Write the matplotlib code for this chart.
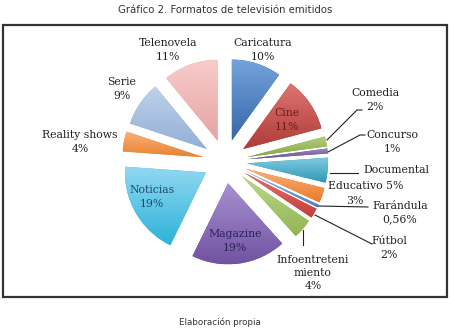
import numpy as np
import matplotlib.pyplot as plt
from matplotlib.patches import Rectangle
from matplotlib.colors import LinearSegmentedColormap, to_rgb

# Datos
categorias = ["Caricatura", "Cine", "Comedia", "Concurso", "Documental", "Educativo",
              "Farándula", "Fútbol", "Infoentretenimiento", "Magazine", "Noticias",
              "Reality shows", "Serie", "Telenovela"]
porcentajes = [10, 11, 2, 1, 5, 3, 0.56, 2, 4, 19, 19, 4, 9, 11]
# color claro (arriba) y oscuro (abajo) de cada porcion
claros = ["#74a3dc", "#dc7571", "#b3d07a", "#a08ac6", "#7fcbe2", "#fab27c",
          "#9cc0ea", "#e8706c", "#bcd98a", "#a891d0", "#92d9f1",
          "#fab27c", "#bed2ec", "#f7cccb"]
oscuros = ["#3565a8", "#b03b37", "#86a846", "#6a4f8e", "#2f98b4", "#e87b2a",
           "#4f82c2", "#c43d39", "#91b553", "#7152a2", "#2db2d9",
           "#e8822e", "#91afd6", "#e7a3a2"]

W, H = 450, 328
fig = plt.figure(figsize=(4.5, 3.28), dpi=100)
ax = fig.add_axes([0, 0, 1, 1])

def py(y):
    # pixel desde arriba -> coordenada del eje
    return H - y

r = 81
cx, cy = 225, py(161.5)
wedges, _ = ax.pie(porcentajes, colors=oscuros, startangle=90, counterclock=False,
                   radius=r, center=(cx, cy), explode=[22] * len(porcentajes),
                   frame=True, wedgeprops=dict(linewidth=0))

# degradado vertical dentro de cada porcion
grad = np.linspace(0, 1, 128).reshape(-1, 1)
for w, c1, c2 in zip(wedges, claros, oscuros):
    bb = w.get_path().get_extents()
    cmap = LinearSegmentedColormap.from_list("g", [to_rgb(c1), to_rgb(c2)])
    im = ax.imshow(grad, cmap=cmap, extent=[bb.x0, bb.x1, bb.y0, bb.y1],
                   origin="upper", aspect="auto", zorder=w.get_zorder() + 0.1,
                   interpolation="bilinear")
    im.set_clip_path(w)

ax.set_xlim(0, W)
ax.set_ylim(0, H)
ax.axis("off")

# Marco
fig.patches.append(Rectangle((3 / W, py(297) / H), 444 / W, 272 / H,
                             transform=fig.transFigure, fill=False,
                             edgecolor="#333333", linewidth=1.6))

fig.text(0.5, py(10) / H, "Gráfico 2. Formatos de televisión emitidos",
         ha="center", va="center", fontsize=7.3, color="#333333",
         family="DejaVu Sans")
fig.text(220 / W, py(322) / H, "Elaboración propia", ha="center", va="center",
         fontsize=6.3, color="#333333", family="DejaVu Sans")

fuente = dict(family="DejaVu Serif", fontsize=7.8, ha="center", va="center",
              color="#222222", linespacing=1.4)

# Etiquetas (texto, x, y en pixeles)
etiquetas = [
    ("Telenovela\n11%", 168, 50, "#222222"),
    ("Caricatura\n10%", 263, 50, "#222222"),
    ("Serie\n9%", 122, 89, "#222222"),
    ("Reality shows\n4%", 80, 142, "#222222"),
    ("Noticias\n19%", 152, 197, "#1b4a6b"),
    ("Magazine\n19%", 235, 241, "#2b2456"),
    ("Cine\n11%", 287, 120, "#6e1a1a"),
    ("Comedia\n2%", 375, 100, "#222222"),
    ("Concurso\n1%", 392, 142, "#222222"),
    ("Documental", 396, 170, "#222222"),
    ("Educativo 5%", 366, 186, "#222222"),
    ("3%", 355, 201, "#222222"),
    ("Farándula\n0,56%", 400, 213, "#222222"),
    ("Fútbol\n2%", 389, 248, "#222222"),
    ("Infoentreteni\nmiento\n4%", 313, 273, "#222222"),
]
for texto, x, y, c in etiquetas:
    ax.text(x, py(y), texto, **{**fuente, "color": c})

# Lineas guia
guias = [
    [(327, 140), (357, 110), (362, 110)],
    [(328, 152), (360, 135), (365, 135)],
    [(330, 173), (358, 173)],
    [(318, 206), (368, 207)],
    [(315, 215), (372, 244)],
    [(303, 230), (303, 245)],
]
for g in guias:
    ax.plot([p[0] for p in g], [py(p[1]) for p in g], color="#222222", lw=0.8)

fig.savefig("out.png", dpi=100)
